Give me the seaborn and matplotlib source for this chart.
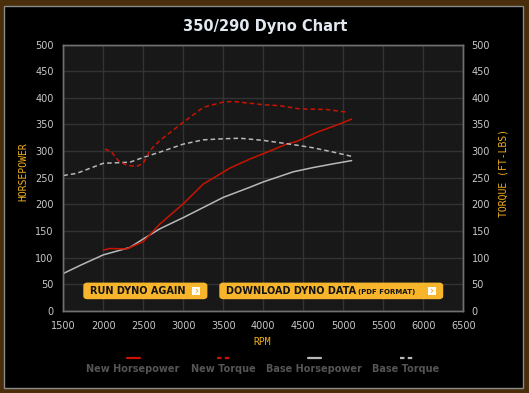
import matplotlib
matplotlib.use("Agg")
import matplotlib.pyplot as plt
import seaborn as sns
import pandas as pd
from matplotlib.patches import Rectangle, FancyBboxPatch
from matplotlib.lines import Line2D

# ---------------- data ----------------
base_tq_rpm = [1500, 1666, 2000, 2333, 2500, 2708, 3000, 3250, 3500, 3708, 4000, 4375, 4625, 4875, 5104]
base_tq_val = [254, 258, 277, 279, 288, 298, 313, 321, 323, 324, 320, 312, 306, 298, 290]

base_hp_rpm = [1500, 1707, 2000, 2333, 2500, 2708, 3000, 3250, 3500, 3833, 4000, 4375, 4625, 4875, 5104]
base_hp_val = [70, 85, 105, 119, 135, 154, 175, 194, 213, 232, 242, 261, 269, 276, 282]

new_hp_rpm = [2000, 2083, 2292, 2500, 2708, 3000, 3250, 3583, 3833, 4000, 4292, 4417, 4667, 4958, 5104]
new_hp_val = [114, 117, 116, 130, 163, 201, 238, 268, 285, 295, 313, 318, 335, 351, 360]

new_tq_rpm = [2020, 2104, 2187, 2292, 2417, 2500, 2583, 2708, 3000, 3250, 3500, 3625, 4000, 4208, 4458, 4792, 5042]
new_tq_val = [304, 298, 282, 273, 271, 277, 301, 320, 354, 382, 392, 393, 387, 385, 379, 378, 373]

x_ticks = [1500, 2000, 2500, 3000, 3500, 4000, 4500, 5000, 5500, 6000, 6500]
y_ticks = [0, 50, 100, 150, 200, 250, 300, 350, 400, 450, 500]

title = "350/290 Dyno Chart"
legend_labels = ["New Horsepower", "New Torque", "Base Horsepower", "Base Torque"]

# ---------------- style ----------------
sns.set_style("dark")
plt.rcParams['font.family'] = ['DejaVu Sans']

W, H = 529, 393
fig = plt.figure(figsize=(W / 100, H / 100), dpi=100)
fig.patch.set_facecolor('#4a2e0c')

def fx(x):
    return x / W

def fy(y):
    return 1 - y / H

# outer black panel
fig.add_artist(Rectangle((fx(3.5), fy(388.3)), (523.3 - 3.5) / W, (388.3 - 5.7) / H,
                         transform=fig.transFigure, facecolor='black',
                         edgecolor='#8a8a8a', linewidth=1.0, zorder=0))

ax_left, ax_right, ax_top, ax_bot = 63.3, 463.3, 44.5, 310.8
ax = fig.add_axes([fx(ax_left), fy(ax_bot), (ax_right - ax_left) / W, (ax_bot - ax_top) / H])
ax.set_facecolor('#181818')
ax2 = ax.twinx()

RED = '#c81400'
GREY = '#b8b8b8'

hp_new = pd.DataFrame({'rpm': new_hp_rpm, 'val': new_hp_val})
hp_base = pd.DataFrame({'rpm': base_hp_rpm, 'val': base_hp_val})
tq_new = pd.DataFrame({'rpm': new_tq_rpm, 'val': new_tq_val})
tq_base = pd.DataFrame({'rpm': base_tq_rpm, 'val': base_tq_val})

sns.lineplot(data=hp_base, x='rpm', y='val', ax=ax, color=GREY, linewidth=1.1)
sns.lineplot(data=hp_new, x='rpm', y='val', ax=ax, color=RED, linewidth=1.1)
sns.lineplot(data=tq_base, x='rpm', y='val', ax=ax2, color=GREY, linewidth=1.1)
sns.lineplot(data=tq_new, x='rpm', y='val', ax=ax2, color=RED, linewidth=1.1)
for l in ax.get_lines():
    l.set_solid_joinstyle('round')
for l in ax2.get_lines():
    l.set_linestyle((0, (3, 2)))

for a in (ax, ax2):
    a.set_xlim(1500, 6500)
    a.set_ylim(0, 500)
    a.set_xlabel('')
    a.set_ylabel('')
    for s in a.spines.values():
        s.set_visible(True)
        s.set_color('#707070')
        s.set_linewidth(1.0)

ax.set_xticks(x_ticks)
ax.set_yticks(y_ticks)
ax2.set_yticks(y_ticks)
ax.set_xticklabels([str(t) for t in x_ticks])
ax.set_yticklabels([str(t) for t in y_ticks])
ax2.set_yticklabels([str(t) for t in y_ticks])
ax.grid(True, color='#333333', linewidth=1.0)
ax2.grid(False)
ax.tick_params(axis='both', length=0, labelsize=7, labelcolor='#c8c8c8')
ax.tick_params(axis='x', pad=7)
ax.tick_params(axis='y', pad=7)
ax2.tick_params(axis='y', length=0, labelsize=7, labelcolor='#c8c8c8', pad=6)
ax.set_axisbelow(True)

# title
fig.text(fx(265.5), fy(27), title, ha='center', va='center', fontsize=10.5,
         fontweight='bold', color='#e2e8f0')

YEL = '#f2b01e'
fig.text(fx(262), fy(342), 'RPM', ha='center', va='center', fontsize=7,
         family='DejaVu Sans Mono', color=YEL)
fig.text(fx(23.3), fy(172), 'HORSEPOWER', ha='center', va='center', fontsize=7,
         family='DejaVu Sans Mono', color=YEL, rotation=90)
fig.text(fx(503.3), fy(173), 'TORQUE (FT-LBS)', ha='center', va='center', fontsize=7,
         family='DejaVu Sans Mono', color=YEL, rotation=90)

# buttons
def button(x0, x1, y0, y1, label, small=None):
    fig.add_artist(FancyBboxPatch((fx(x0), fy(y1)), (x1 - x0) / W, (y1 - y0) / H,
                                  boxstyle='round,pad=0,rounding_size=0.006',
                                  transform=fig.transFigure, facecolor='#f6b52a',
                                  edgecolor='#f6b52a', zorder=5))
    sq = 8
    fig.add_artist(Rectangle((fx(x1 - 15), fy((y0 + y1) / 2 + sq / 2)), sq / W, sq / H,
                             transform=fig.transFigure, facecolor='white',
                             edgecolor='none', zorder=6))
    fig.text(fx(x1 - 11), fy((y0 + y1) / 2 + 0.3), '›', ha='center', va='center',
             fontsize=7, color='#f6b52a', fontweight='bold', zorder=7)
    t = fig.text(fx(x0 + 6), fy((y0 + y1) / 2), label, ha='left', va='center',
                 fontsize=7, fontweight='bold', color='#141414', zorder=7)
    if small:
        fig.canvas.draw()
        bb = t.get_window_extent()
        fig.text(bb.x1 / W + 2 / W, fy((y0 + y1) / 2 + 0.8), small, ha='left', va='center',
                 fontsize=5, fontweight='bold', color='#141414', zorder=7)

button(84, 206.7, 283.3, 298.5, 'RUN DYNO AGAIN')
button(220, 442.5, 283.3, 298.5, 'DOWNLOAD DYNO DATA', '(PDF FORMAT)')

# legend
leg_x = [133, 223, 314, 406]
leg_style = [(RED, '-'), (RED, (0, (2, 1.5))), (GREY, '-'), (GREY, (0, (2, 1.5)))]
for x, lab, (c, ls) in zip(leg_x, legend_labels, leg_style):
    fig.add_artist(Line2D([fx(x - 6.5), fx(x + 6.5)], [fy(357.7), fy(357.7)],
                          transform=fig.transFigure, color=c, linestyle=ls, linewidth=1.6))
    fig.text(fx(x), fy(368.5), lab, ha='center', va='center', fontsize=7,
             fontweight='bold', color='#555555')

fig.savefig('out.png', dpi=100, facecolor=fig.get_facecolor())
